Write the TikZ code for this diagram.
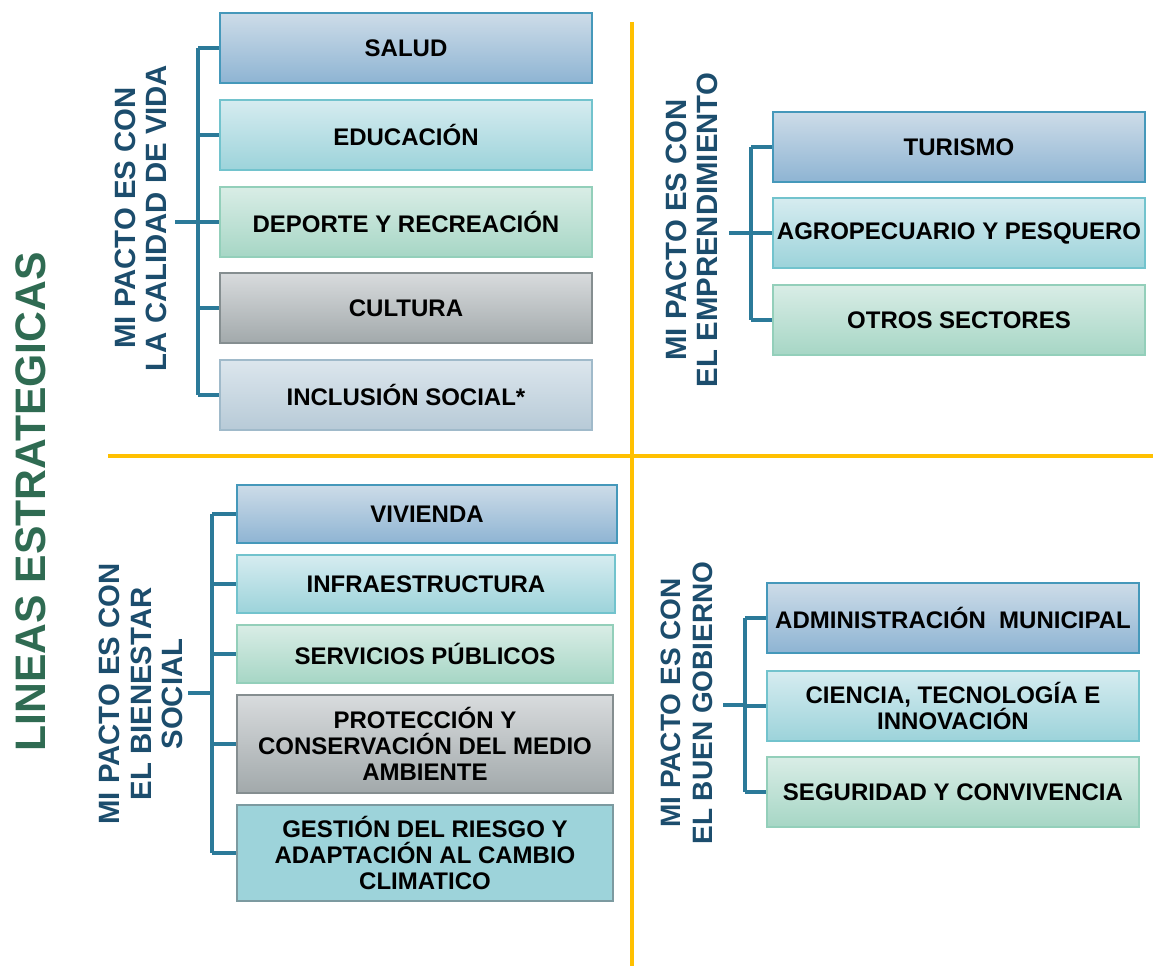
\documentclass[tikz,border=0pt]{standalone}
\usepackage{fontspec}
\setmainfont{Liberation Sans}
\usetikzlibrary{calc}
\definecolor{conncol}{HTML}{2B7A99}
\definecolor{labcol}{HTML}{1C4D6D}
\definecolor{titcol}{HTML}{2F6B52}
\definecolor{sepcol}{HTML}{FFC000}
\definecolor{HTML3E8DB5}{HTML}{4598BA}
\definecolor{HTMLCDDCE8}{HTML}{CDDCE8}
\definecolor{HTML8EB4D3}{HTML}{8EB4D3}
\definecolor{HTML72C3CD}{HTML}{72C3CD}
\definecolor{HTMLD6ECF0}{HTML}{D6ECF0}
\definecolor{HTML9CD3DA}{HTML}{9CD3DA}
\definecolor{HTML93CFBA}{HTML}{93CFBA}
\definecolor{HTMLD9EDE6}{HTML}{D9EDE6}
\definecolor{HTMLA6D6C5}{HTML}{A6D6C5}
\definecolor{HTML858E90}{HTML}{858E90}
\definecolor{HTMLD8DBDD}{HTML}{D8DBDD}
\definecolor{HTMLA2A9AB}{HTML}{A2A9AB}
\definecolor{HTMLA0BACA}{HTML}{A0BACA}
\definecolor{HTMLDCE6ED}{HTML}{DCE6ED}
\definecolor{HTMLB7CAD7}{HTML}{B7CAD7}
\definecolor{HTML7C9AA0}{HTML}{7C9AA0}
\definecolor{HTML9DD3DA}{HTML}{9DD3DA}
\tikzset{
  box/.style={draw, line width=1.4pt, minimum height=52.5pt, inner sep=1pt, align=center,
    font=\bfseries\fontsize{18}{19.5}\selectfont, text=black},
  bluebox/.style={box, draw=HTML3E8DB5, top color=HTMLCDDCE8, bottom color=HTML8EB4D3},
  aquabox/.style={box, draw=HTML72C3CD, top color=HTMLD6ECF0, bottom color=HTML9CD3DA},
  greenbox/.style={box, draw=HTML93CFBA, top color=HTMLD9EDE6, bottom color=HTMLA6D6C5},
  graybox/.style={box, draw=HTML858E90, top color=HTMLD8DBDD, bottom color=HTMLA2A9AB},
  paleblue/.style={box, draw=HTMLA0BACA, top color=HTMLDCE6ED, bottom color=HTMLB7CAD7},
  tealbox/.style={box, draw=HTML7C9AA0, fill=HTML9DD3DA},
  conn/.style={draw=conncol, line width=2.3pt},
  sidelab/.style={rotate=90, align=center, text=labcol,
    font=\bfseries\fontsize{22}{23.5}\selectfont},
  sep/.style={draw=sepcol, line width=2.4pt},
}
\begin{document}
\begin{tikzpicture}[x=0.75pt,y=-0.75pt]
\useasboundingbox (0,0) rectangle (1153,966);
% separators
\coordinate (vtop) at (632,22);
\coordinate (vbot) at (632,966);
\coordinate (hleft) at (108,456);
\coordinate (hright) at (1153,456);
\draw[sep] (vtop) -- (vbot);
\draw[sep] (hleft) -- (hright);
% title
\node[rotate=90, text=titcol, font=\bfseries\fontsize{32}{34}\selectfont] (title) at (31,502) {LINEAS ESTRATEGICAS};

% ---------- top-left
\node[bluebox, minimum width=279pt, minimum height=52.5pt] (salud) at (406,48) {SALUD};
\node[aquabox, minimum width=279pt, minimum height=53pt] (educ) at (406,135) {EDUCACIÓN};
\node[greenbox, minimum width=279pt, minimum height=53pt] (depo) at (406,222) {DEPORTE Y RECREACIÓN};
\node[graybox, minimum width=279pt, minimum height=52.5pt] (cult) at (406,308) {CULTURA};
\node[paleblue, minimum width=279pt, minimum height=53pt] (incl) at (406,395) {INCLUSIÓN SOCIAL*};
\node[sidelab] (labtl) at (141,218) {MI PACTO ES CON\\LA CALIDAD DE VIDA};
\coordinate (tlbus) at (198,222);
\coordinate (tlstub) at (175,222);
\draw[conn] (tlstub) -- (tlbus);
\draw[conn] (salud.west -| tlbus) -- (incl.west -| tlbus);
\foreach \b in {salud,educ,depo,cult,incl} \draw[conn] (\b.west -| tlbus) -- (\b.west);

% ---------- top-right
\node[bluebox, minimum width=279pt, minimum height=52.5pt] (turi) at (959,147) {TURISMO};
\node[aquabox, minimum width=279pt, minimum height=52.5pt] (agro) at (959,233) {AGROPECUARIO Y PESQUERO};
\node[greenbox, minimum width=279pt, minimum height=53pt] (otro) at (959,320) {OTROS SECTORES};
\node[sidelab] (labtr) at (692,230) {MI PACTO ES CON\\EL EMPRENDIMIENTO};
\coordinate (trbus) at (751,233);
\coordinate (trstub) at (729,233);
\draw[conn] (trstub) -- (trbus);
\draw[conn] (turi.west -| trbus) -- (otro.west -| trbus);
\foreach \b in {turi,agro,otro} \draw[conn] (\b.west -| trbus) -- (\b.west);

% ---------- bottom-left
\node[bluebox, minimum width=285pt, minimum height=44pt] (vivi) at (427,514) {VIVIENDA};
\node[aquabox, minimum width=284pt, minimum height=43.5pt] (infra) at (426,584) {INFRAESTRUCTURA};
\node[greenbox, minimum width=282pt, minimum height=43.5pt] (serv) at (425,654) {SERVICIOS PÚBLICOS};
\node[graybox, minimum width=282pt, minimum height=73pt] (prot) at (425,744) {PROTECCIÓN Y\\CONSERVACIÓN DEL MEDIO\\AMBIENTE};
\node[tealbox, minimum width=282pt, minimum height=72pt] (gest) at (425,853) {GESTIÓN DEL RIESGO Y\\ADAPTACIÓN AL CAMBIO\\CLIMATICO};
\node[sidelab] (labbl) at (141,694) {MI PACTO ES CON\\EL BIENESTAR\\SOCIAL};
\coordinate (blbus) at (212,693);
\coordinate (blstub) at (188,693);
\draw[conn] (blstub) -- (blbus);
\draw[conn] (vivi.west -| blbus) -- (gest.west -| blbus);
\foreach \b in {vivi,infra,serv,prot,gest} \draw[conn] (\b.west -| blbus) -- (\b.west);

% ---------- bottom-right
\node[bluebox, minimum width=279pt, minimum height=52.5pt] (admi) at (953,618) {ADMINISTRACIÓN\ \ MUNICIPAL};
\node[aquabox, minimum width=279pt, minimum height=52.5pt] (cien) at (953,706) {CIENCIA, TECNOLOGÍA E\\INNOVACIÓN};
\node[greenbox, minimum width=279pt, minimum height=52.5pt] (segu) at (953,792) {SEGURIDAD Y CONVIVENCIA};
\node[sidelab, font=\bfseries\fontsize{21}{23.5}\selectfont] (labbr) at (687,703) {MI PACTO ES CON\\EL BUEN GOBIERNO};
\coordinate (brbus) at (745,705);
\coordinate (brstub) at (723,705);
\draw[conn] (brstub) -- (brbus);
\draw[conn] (admi.west -| brbus) -- (segu.west -| brbus);
\foreach \b in {admi,cien,segu} \draw[conn] (\b.west -| brbus) -- (\b.west);
\end{tikzpicture}
\end{document}
